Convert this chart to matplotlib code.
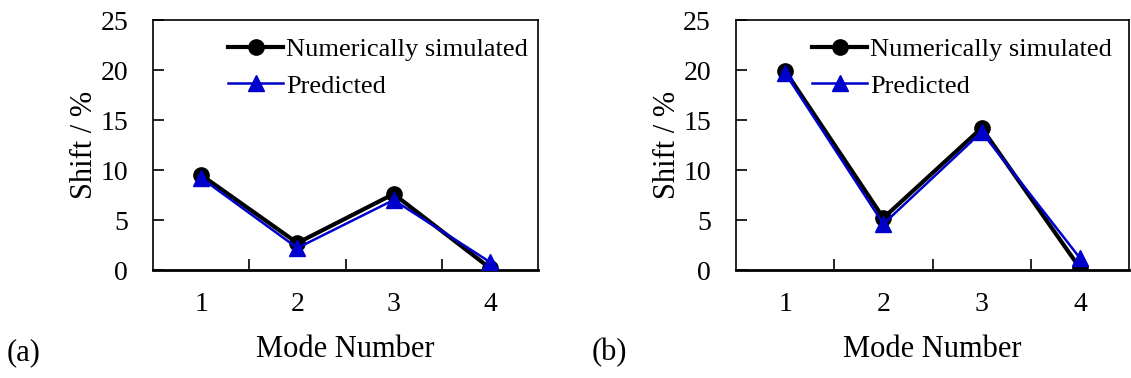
import matplotlib
matplotlib.use("Agg")
import matplotlib.pyplot as plt

modes = [1, 2, 3, 4]
sim_a = [9.5, 2.7, 7.6, 0.2]
pred_a = [9.2, 2.2, 7.0, 0.8]
sim_b = [19.9, 5.2, 14.2, 0.2]
pred_b = [19.7, 4.6, 13.8, 1.2]
yticks = [0, 5, 10, 15, 20, 25]

plt.rcParams['font.family'] = ['Liberation Serif', 'DejaVu Serif']
plt.rcParams['font.size'] = 20

fig = plt.figure(figsize=(11.31, 3.78), dpi=100)
W, H = 1131, 378

def make(ax, sim, pred, lx):
    ax.plot(modes, sim, color='black', lw=3, marker='o', ms=11, label='Numerically simulated', zorder=3)
    ax.plot(modes, pred, color='#0000CC', lw=1.8, marker='^', ms=11, label='Predicted', zorder=4)
    ax.set_xlim(0.5, 4.5)
    ax.set_ylim(0, 25)
    ax.set_yticks(yticks)
    ax.set_xticks([1.5, 2.5, 3.5])
    ax.set_xticks(modes, minor=True)
    ax.set_xticklabels(['', '', ''])
    ax.set_xticklabels([str(m) for m in modes], minor=True)
    ax.tick_params(axis='x', which='major', direction='in', length=8, width=1.2)
    ax.tick_params(axis='x', which='minor', length=0, pad=16)
    ax.tick_params(axis='y', direction='in', length=8, width=1.2, pad=18)
    for s in ax.spines.values():
        s.set_linewidth(1.2)
    ax.spines['bottom'].set_linewidth(2)
    ax.set_xlabel('Mode Number', fontsize=22, labelpad=13)
    ax.set_ylabel('Shift / %', fontsize=22, labelpad=1)
    ax.legend(loc='upper left', bbox_to_anchor=(lx, 0.93), frameon=False, fontsize=19,
              handlelength=2.1, handletextpad=0.1, labelspacing=0.5,
              borderaxespad=0, borderpad=0)

ax1 = fig.add_axes([153 / W, 1 - 270 / H, (538 - 153) / W, 250 / H])
make(ax1, sim_a, pred_a, 0.195)
ax2 = fig.add_axes([736 / W, 1 - 270 / H, (1129 - 736) / W, 250 / H])
make(ax2, sim_b, pred_b, 0.193)

fig.text(7 / W, 1 - 353 / H, '(a)', va='center', ha='left', fontsize=22)
fig.text(592 / W, 1 - 353 / H, '(b)', va='center', ha='left', fontsize=22)

fig.savefig('out.png', dpi=100)
